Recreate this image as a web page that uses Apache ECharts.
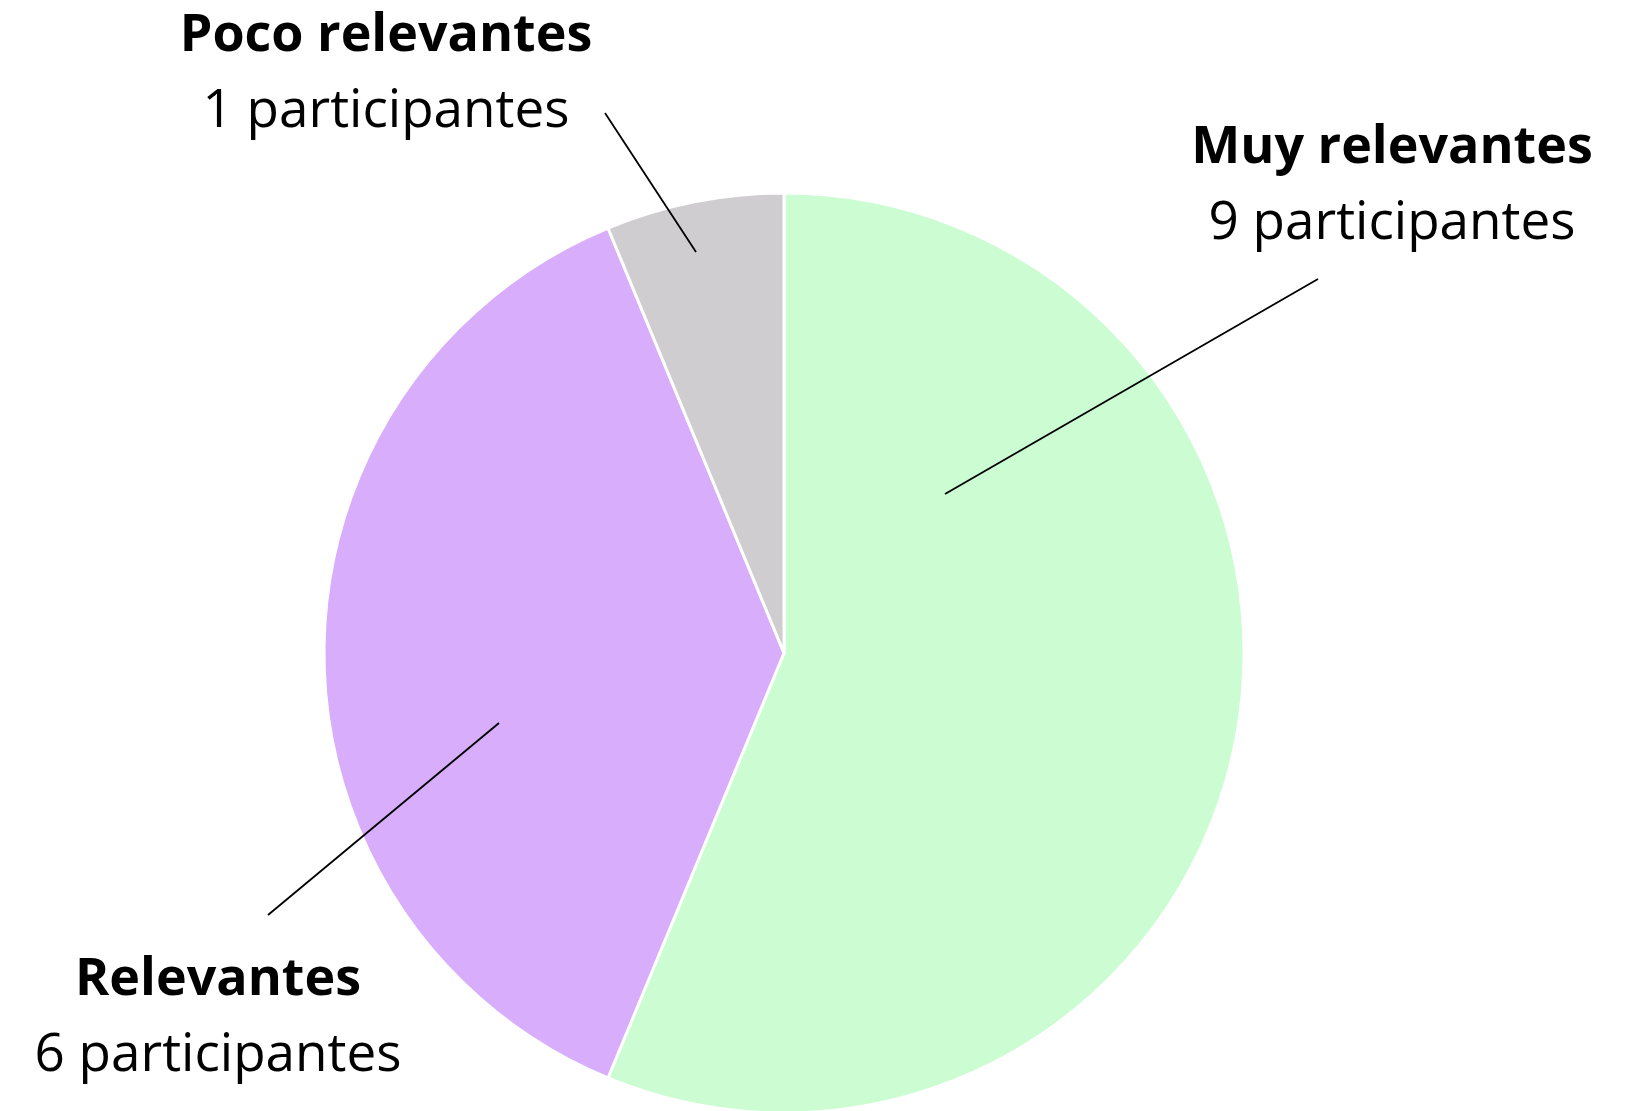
<!DOCTYPE html>
<html>
<head>
<meta charset="utf-8">
<script src="https://cdn.jsdelivr.net/npm/echarts@6/dist/echarts.min.js"></script>
<style>
html,body{margin:0;padding:0;background:#fff;}
#c{width:1633px;height:1111px;}
</style>
</head>
<body>
<div id="c"></div>
<script>
// ---- data ----
const categories = ['Muy relevantes', 'Relevantes', 'Poco relevantes'];
const values = [9, 6, 1];
const unitLabel = 'participantes';
const colors = ['#CBFCD2', '#D8ADFC', '#CFCDCF'];

// ---- layout (pixels, relative to pie centre) ----
const CX = 784, CY = 653, R = 460;
const labelSpots = [
  { x: 608,  y: -467, from: [161, -159], to: [534, -374] },
  { x: -566, y: 365,  from: [-285, 70],  to: [-516, 262] },
  { x: -398, y: -579, from: [-88, -401], to: [-179, -540] }
];

const pieData = categories.map((n, i) => ({ name: n, value: values[i] }));

const chart = echarts.init(document.getElementById('c'), null, { renderer: 'canvas' });
chart.setOption({
  animation: false,
  backgroundColor: '#ffffff',
  series: [
    {
      type: 'pie',
      z: 2,
      center: [CX, CY],
      radius: R,
      startAngle: 90,
      clockwise: true,
      data: pieData.map((d, i) => ({ name: d.name, value: d.value, itemStyle: { color: colors[i] } })),
      itemStyle: { borderColor: '#ffffff', borderWidth: 3 },
      label: { show: false },
      labelLine: { show: false },
      emphasis: { disabled: true },
      silent: true
    },
    {
      type: 'pie',
      z: 5,
      center: [CX, CY],
      radius: R,
      startAngle: 90,
      clockwise: true,
      avoidLabelOverlap: false,
      silent: true,
      data: pieData,
      itemStyle: { color: 'rgba(0,0,0,0)', borderWidth: 0 },
      label: {
        show: true,
        position: 'outside',
        align: 'center',
        formatter: p => '{b|' + p.name + '}\n{r|' + p.value + ' ' + unitLabel + '}',
        rich: {
          b: { fontFamily: 'Open Sans', fontWeight: 'bold', fontSize: 52, lineHeight: 75, color: '#000', align: 'center' },
          r: { fontFamily: 'Open Sans', fontWeight: 'normal', fontSize: 53, lineHeight: 75, color: '#000', align: 'center' }
        }
      },
      labelLine: { show: true, length: 10, length2: 10, smooth: false, lineStyle: { color: '#000', width: 1.8 } },
      labelLayout: function (params) {
        const s = labelSpots[params.dataIndex];
        const a = [CX + s.from[0], CY + s.from[1]];
        const b = [CX + s.to[0], CY + s.to[1]];
        return {
          x: CX + s.x,
          y: CY + s.y,
          align: 'center',
          verticalAlign: 'middle',
          labelLinePoints: [a, [(a[0] + b[0]) / 2, (a[1] + b[1]) / 2], b]
        };
      },
      emphasis: { disabled: true }
    }
  ]
});
</script>
</body>
</html>
